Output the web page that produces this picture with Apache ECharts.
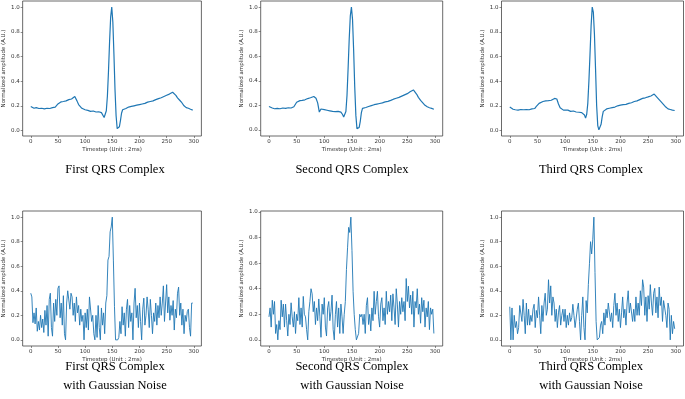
<!DOCTYPE html>
<html>
<head>
<meta charset="utf-8">
<script src="https://cdn.jsdelivr.net/npm/echarts@6/dist/echarts.min.js"></script>
<style>
  html, body { margin: 0; padding: 0; background: #fff; }
  #main { width: 685px; height: 399px; }
</style>
</head>
<body>
<div id="main"></div>
<script>
// timesteps used for the clean complexes (denser around the QRS)
const cleanSteps = [0,3,6,10,15,20,25,30,35,40, 45,48,50,53,56,60,65,70,75,78,
  81,83,85,88,91,94,97,100,105,110, 115,120,125,130,133,135,137,139,141,143,
  145,147,149,151,153,155,157,159,161,163, 165,167,169,172,175,180,185,190,195,200,
  205,210,215,220,225,230,235,240,245,250, 255,258,261,264,267,270,274,278,282,286,
  290,294,298];

const firstQrs = [0.195,0.185,0.18,0.185,0.178,0.18,0.175,0.18,0.178,0.185,
  0.19,0.2,0.215,0.225,0.232,0.235,0.24,0.25,0.255,0.26,
  0.275,0.27,0.24,0.21,0.195,0.18,0.17,0.168,0.163,0.155,
  0.158,0.15,0.152,0.145,0.135,0.105,0.11,0.16,0.28,0.48,
  0.72,0.92,1.0,0.88,0.62,0.33,0.12,0.015,0.005,0.03,
  0.08,0.14,0.168,0.175,0.178,0.19,0.195,0.2,0.205,0.21,
  0.215,0.22,0.23,0.235,0.24,0.25,0.258,0.265,0.275,0.285,
  0.295,0.3,0.31,0.3,0.285,0.265,0.245,0.225,0.2,0.185,
  0.18,0.172,0.165];

const secondQrs = [0.19,0.182,0.178,0.172,0.175,0.172,0.178,0.175,0.18,0.178,
  0.188,0.2,0.225,0.235,0.238,0.24,0.245,0.255,0.262,0.265,
  0.272,0.27,0.258,0.22,0.145,0.17,0.165,0.165,0.16,0.155,
  0.15,0.148,0.15,0.145,0.125,0.105,0.1,0.15,0.28,0.5,
  0.74,0.93,1.0,0.9,0.65,0.35,0.12,0.01,0.0,0.02,
  0.07,0.14,0.175,0.18,0.182,0.19,0.198,0.205,0.21,0.215,
  0.22,0.228,0.232,0.24,0.25,0.258,0.265,0.275,0.285,0.295,
  0.31,0.318,0.325,0.315,0.29,0.265,0.24,0.22,0.2,0.188,
  0.18,0.175,0.168];

const thirdQrs = [0.19,0.178,0.172,0.168,0.165,0.17,0.168,0.17,0.168,0.175,
  0.178,0.195,0.21,0.22,0.228,0.235,0.24,0.242,0.245,0.25,
  0.26,0.262,0.255,0.215,0.185,0.17,0.165,0.16,0.165,0.155,
  0.158,0.15,0.148,0.145,0.14,0.125,0.1,0.13,0.22,0.4,
  0.62,0.85,1.0,0.96,0.78,0.5,0.2,0.04,0.005,0.01,
  0.05,0.11,0.155,0.17,0.175,0.18,0.185,0.19,0.2,0.205,
  0.21,0.212,0.22,0.225,0.235,0.24,0.25,0.26,0.265,0.272,
  0.28,0.288,0.295,0.285,0.265,0.25,0.23,0.21,0.19,0.175,
  0.17,0.165,0.162];

// noisy versions, one value every 2 timesteps (0, 2, ... 298)
const firstNoisy = [0.38,0.35,0.14,0.22,0.13,0.26,0.07,0.15,0.08,0.20,
  0.10,0.17,0.06,0.24,0.12,0.28,0.03,0.33,0.38,0.10,
  0.03,0.30,0.15,0.33,0.20,0.42,0.44,0.18,0.30,0.12,
  0.36,0.05,0.00,0.30,0.40,0.41,0.25,0.38,0.35,0.20,
  0.30,0.15,0.35,0.22,0.28,0.12,0.25,0.15,0.20,0.00,
  0.22,0.10,0.25,0.08,0.35,0.36,0.15,0.20,0.05,0.00,
  0.20,0.02,0.28,0.10,0.00,0.26,0.12,0.22,0.05,0.30,
  0.36,0.65,0.68,0.88,0.92,1.00,0.65,0.27,0.00,0.00,
  0.00,0.02,0.15,0.05,0.27,0.12,0.22,0.03,0.25,0.33,
  0.10,0.28,0.15,0.22,0.00,0.30,0.42,0.18,0.28,0.10,
  0.30,0.15,0.00,0.25,0.34,0.12,0.20,0.35,0.25,0.10,
  0.33,0.20,0.05,0.22,0.15,0.30,0.12,0.28,0.18,0.35,
  0.20,0.30,0.44,0.15,0.30,0.45,0.22,0.35,0.16,0.28,
  0.20,0.32,0.08,0.25,0.18,0.38,0.43,0.20,0.30,0.12,
  0.25,0.05,0.20,0.15,0.23,0.25,0.10,0.03,0.30,0.30];

const secondNoisy = [0.18,0.25,0.10,0.31,0.20,0.30,0.05,0.12,0.00,0.15,
  0.08,0.31,0.18,0.28,0.10,0.28,0.15,0.03,0.20,0.12,
  0.29,0.18,0.10,0.22,0.05,0.20,0.15,0.33,0.12,0.25,
  0.10,0.34,0.20,0.18,0.08,0.00,0.22,0.30,0.40,0.36,
  0.22,0.30,0.12,0.25,0.15,0.32,0.18,0.02,0.28,0.20,
  0.33,0.10,0.03,0.25,0.30,0.15,0.22,0.35,0.08,0.00,
  0.20,0.30,0.10,0.25,0.05,0.28,0.18,0.05,0.20,0.30,
  0.55,0.72,0.88,0.84,0.96,0.70,0.38,0.20,0.08,0.00,
  0.00,0.05,0.20,0.18,0.20,0.12,0.20,0.05,0.27,0.33,
  0.12,0.20,0.07,0.25,0.15,0.38,0.20,0.30,0.38,0.18,
  0.10,0.28,0.33,0.15,0.25,0.12,0.38,0.20,0.30,0.22,
  0.35,0.15,0.36,0.25,0.12,0.40,0.28,0.10,0.30,0.20,
  0.33,0.22,0.30,0.15,0.48,0.30,0.42,0.25,0.35,0.20,
  0.38,0.10,0.30,0.25,0.40,0.20,0.28,0.13,0.33,0.22,
  0.31,0.10,0.25,0.18,0.30,0.08,0.25,0.20,0.24,0.05];

const thirdNoisy = [0.27,0.00,0.26,0.00,0.20,0.10,0.15,0.05,0.10,0.28,
  0.28,0.15,0.33,0.20,0.05,0.30,0.12,0.25,0.12,0.20,
  0.15,0.25,0.29,0.10,0.24,0.18,0.35,0.20,0.05,0.28,
  0.15,0.30,0.38,0.20,0.25,0.49,0.30,0.44,0.20,0.35,
  0.30,0.15,0.25,0.10,0.22,0.28,0.12,0.20,0.25,0.15,
  0.25,0.10,0.20,0.12,0.22,0.15,0.18,0.29,0.20,0.10,
  0.10,0.25,0.30,0.15,0.00,0.20,0.35,0.10,0.00,0.32,
  0.22,0.45,0.62,0.80,0.70,0.82,1.00,0.55,0.15,0.00,
  0.00,0.02,0.12,0.15,0.05,0.22,0.12,0.25,0.18,0.30,
  0.30,0.15,0.22,0.10,0.28,0.38,0.20,0.30,0.15,0.25,
  0.10,0.22,0.35,0.18,0.25,0.12,0.30,0.40,0.22,0.30,
  0.30,0.15,0.25,0.15,0.35,0.20,0.30,0.20,0.40,0.28,
  0.49,0.43,0.20,0.35,0.15,0.36,0.25,0.45,0.30,0.20,
  0.38,0.42,0.22,0.35,0.18,0.43,0.28,0.35,0.15,0.32,
  0.32,0.20,0.10,0.30,0.25,0.00,0.20,0.05,0.15,0.09];

const xTicks = [0, 50, 100, 150, 200, 250, 300];
const yTicks = [0.0, 0.2, 0.4, 0.6, 0.8, 1.0];
const captions = ['First QRS Complex', 'Second QRS Complex', 'Third QRS Complex',
  'First QRS Complex\nwith Gaussian Noise', 'Second QRS Complex\nwith Gaussian Noise',
  'Third QRS Complex\nwith Gaussian Noise'];

const noisySteps = [];
for (let t = 0; t < 300; t += 2) noisySteps.push(t);

function pairs(xs, ys) {
  return ys.map((v, i) => [xs[i], v]);
}

// matplotlib style 5% margins
function padded(vals) {
  const lo = Math.min.apply(null, vals), hi = Math.max.apply(null, vals);
  const m = (hi - lo) * 0.05;
  return [lo - m, hi + m];
}

const panels = [
  { steps: cleanSteps, vals: firstQrs },
  { steps: cleanSteps, vals: secondQrs },
  { steps: cleanSteps, vals: thirdQrs },
  { steps: noisySteps, vals: firstNoisy },
  { steps: noisySteps, vals: secondNoisy },
  { steps: noisySteps, vals: thirdNoisy }
];

const lefts = [19.4, 260.7, 501.5];
const tops = [1, 211];
const captionX = [115, 352, 591];
const captionY = [170, 376];
const boxW = 182, boxH = 135;
const axisColor = '#444';
const smallFont = { fontSize: 5.5, color: '#333', fontFamily: 'DejaVu Sans' };

const chart = echarts.init(document.getElementById('main'), null, { renderer: 'canvas' });

const grid = [], xAxis = [], yAxis = [], series = [], graphic = [];
panels.forEach((p, i) => {
  const col = i % 3, row = Math.floor(i / 3);
  grid.push({
    left: lefts[col], top: tops[row], width: boxW, height: boxH,
    show: true, borderColor: axisColor, borderWidth: 0.8, backgroundColor: 'transparent'
  });
  const yr = padded(p.vals);
  xAxis.push({
    type: 'value', gridIndex: i, min: -14.95, max: 313.95,
    name: 'Timestep (Unit : 2ms)', nameLocation: 'middle', nameGap: 11,
    nameTextStyle: smallFont,
    axisLine: { show: false, onZero: false },
    axisTick: { show: true, length: 2, customValues: xTicks, lineStyle: { color: axisColor, width: 0.6 } },
    axisLabel: Object.assign({ customValues: xTicks, margin: 3, formatter: v => String(v) }, smallFont),
    splitLine: { show: false }
  });
  yAxis.push({
    type: 'value', gridIndex: i, min: yr[0], max: yr[1],
    name: 'Normalized amplitude (A.U.)', nameLocation: 'middle', nameGap: 13,
    nameTextStyle: smallFont,
    axisLine: { show: false, onZero: false },
    axisTick: { show: true, length: 2, customValues: yTicks, lineStyle: { color: axisColor, width: 0.6 } },
    axisLabel: Object.assign({ customValues: yTicks, margin: 3, formatter: v => v.toFixed(1) }, smallFont),
    splitLine: { show: false }
  });
  series.push({
    type: 'line', xAxisIndex: i, yAxisIndex: i,
    data: pairs(p.steps, p.vals),
    showSymbol: false, symbol: 'none', smooth: false,
    lineStyle: { color: '#1f77b4', width: row === 0 ? 1.2 : 0.9 },
    animation: false
  });
  graphic.push({
    type: 'text',
    x: captionX[col], y: captionY[row],
    style: {
      text: captions[i], textAlign: 'center', textVerticalAlign: 'middle',
      font: '12.5px "Liberation Serif", "DejaVu Serif", serif', fill: '#000', lineHeight: 19
    }
  });
});

chart.setOption({
  animation: false,
  grid: grid, xAxis: xAxis, yAxis: yAxis, series: series, graphic: graphic
});
</script>
</body>
</html>
